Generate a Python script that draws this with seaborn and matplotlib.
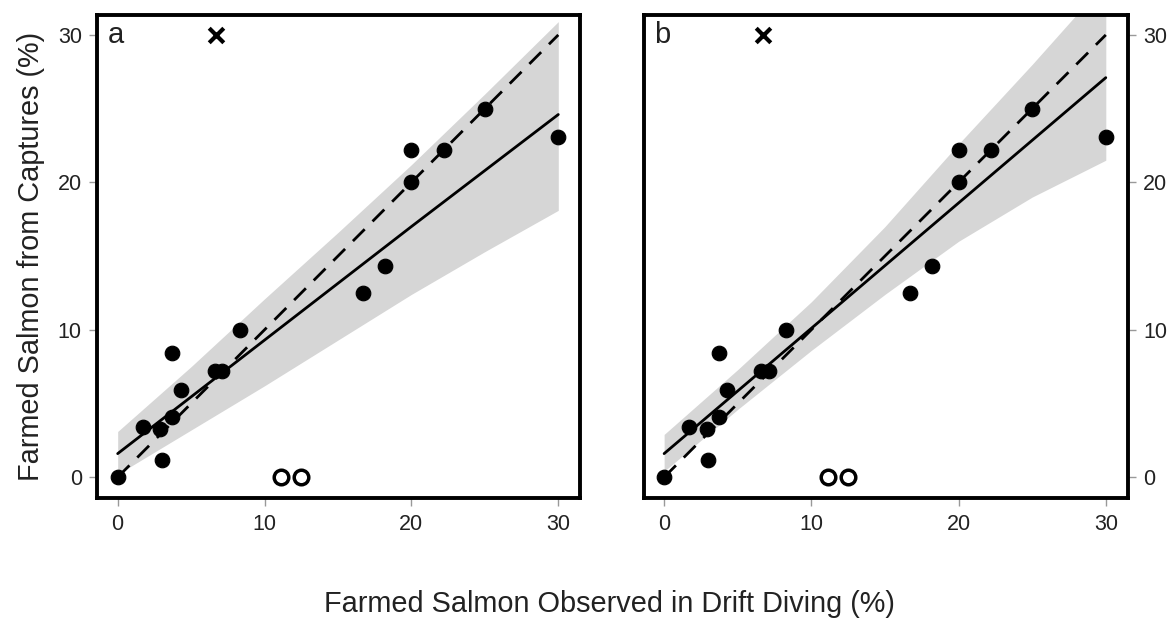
import matplotlib.pyplot as plt
import pandas as pd
import seaborn as sns

# filled points: (drift diving %, captures %)
diving = [0, 1.7, 2.9, 3.0, 3.7, 3.7, 4.3, 6.6, 7.1, 8.3, 16.7, 18.2, 20.0, 20.0, 22.2, 25.0, 30.0]
captures = [0, 3.4, 3.3, 1.2, 8.4, 4.1, 5.9, 7.2, 7.2, 10.0, 12.5, 14.3, 22.2, 20.0, 22.2, 25.0, 23.1]

# excluded points
open_x = [11.1, 12.5]
open_y = [0, 0]
cross_x = [6.7]
cross_y = [30]

# fitted lines and confidence bands, read every 5 %
fit_x = [0, 5, 10, 15, 20, 25, 30]
fit_a = [1.6, 5.45, 9.3, 13.15, 17.0, 20.8, 24.6]
low_a = [0.2, 3.2, 6.2, 9.3, 12.4, 15.3, 18.1]
high_a = [3.1, 7.5, 12.1, 16.6, 21.2, 26.0, 30.9]
fit_b = [1.6, 5.85, 10.1, 14.35, 18.6, 22.85, 27.1]
low_b = [0.4, 4.6, 8.6, 12.4, 16.0, 19.0, 21.5]
high_b = [2.9, 7.3, 11.9, 17.0, 22.6, 28.0, 33.6]

one_to_one = [0, 30]

sns.set_style("white")
plt.rcParams["font.family"] = ["Liberation Sans", "DejaVu Sans"]

fig = plt.figure(figsize=(11.7, 6.19), dpi=100)
ax_a = fig.add_axes([0.083, 0.195, 0.413, 0.781])
ax_b = fig.add_axes([0.550, 0.195, 0.414, 0.781])

pts = pd.DataFrame({"x": diving, "y": captures})
panels = [(ax_a, "a", fit_a, low_a, high_a), (ax_b, "b", fit_b, low_b, high_b)]

for ax, letter, fit, low, high in panels:
    ax.fill_between(fit_x, low, high, color="#d6d6d6", lw=0, zorder=1)
    sns.lineplot(x=one_to_one, y=one_to_one, ax=ax, color="black", lw=2,
                 linestyle=(0, (6, 4)), zorder=2)
    sns.lineplot(x=fit_x, y=fit, ax=ax, color="black", lw=2, zorder=3)
    sns.scatterplot(data=pts, x="x", y="y", ax=ax, color="black", s=110,
                    edgecolor="black", zorder=4)
    ax.scatter(open_x, open_y, s=110, facecolor="white", edgecolor="black",
               linewidths=2.5, zorder=4)
    ax.scatter(cross_x, cross_y, s=110, marker="x", color="black",
               linewidths=3, zorder=4)
    ax.text(-0.7, 30, letter, fontsize=21, va="center", ha="left", color="#222222")

    ax.set_xlim(-1.4, 31.5)
    ax.set_ylim(-1.43, 31.36)
    ax.set_xticks([0, 10, 20, 30])
    ax.set_yticks([0, 10, 20, 30])
    ax.set_xlabel("")
    ax.set_ylabel("")
    for sp in ax.spines.values():
        sp.set_visible(True)
        sp.set_color("black")
        sp.set_linewidth(2.8)
    ax.tick_params(axis="both", which="both", length=6, width=1, color="#999999",
                   labelsize=15.5, labelcolor="#222222", pad=5,
                   bottom=True, left=True)

ax_b.yaxis.tick_right()
ax_b.tick_params(axis="y", right=True, left=False)

ax_a.set_ylabel("Farmed Salmon from Captures (%)", fontsize=20.8, color="#222222", labelpad=9)
fig.text(0.521, 0.011, "Farmed Salmon Observed in Drift Diving (%)", fontsize=20.8,
         ha="center", va="baseline", color="#222222")

fig.savefig("out.png", dpi=100)
